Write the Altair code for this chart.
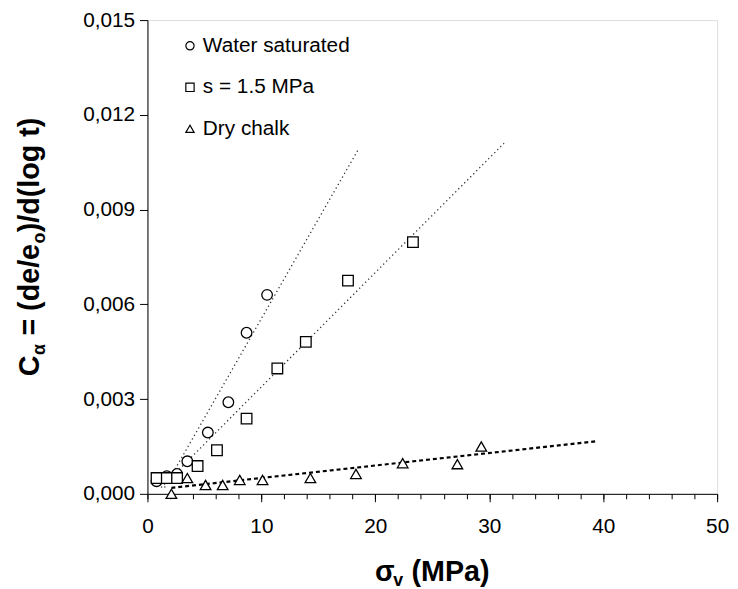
import altair as alt
import pandas as pd

# ---------------- data ----------------
ws_x = [0.8, 1.7, 2.6, 3.5, 5.3, 7.1, 8.7, 10.5]
ws_y = [0.00040, 0.00056, 0.00063, 0.00103, 0.00194, 0.00290, 0.00510, 0.00630]

s_x = [0.8, 1.7, 2.6, 4.4, 6.1, 8.7, 11.4, 13.9, 17.6, 23.3]
s_y = [0.00050, 0.00050, 0.00050, 0.00088, 0.00138, 0.00238, 0.00397, 0.00481, 0.00675, 0.00797]

dry_x = [2.1, 3.5, 5.1, 6.6, 8.1, 10.1, 14.3, 18.3, 22.4, 27.2, 29.3]
dry_y = [0.00000, 0.00050, 0.00028, 0.00028, 0.00044, 0.00044, 0.00050, 0.00063, 0.00097, 0.00094, 0.00150]

# trend lines (end points)
ws_line_x = [1.5, 18.5]
ws_line_y = [0.0002, 0.0109]
s_line_x = [1.2, 31.3]
s_line_y = [0.0002, 0.0111]
dry_line_x = [2.1, 39.3]
dry_line_y = [0.00019, 0.00166]

series_names = ["Water saturated", "s = 1.5 MPa", "Dry chalk"]
series_shapes = ["circle", "square", "triangle-up"]
x_major = list(range(0, 51, 10))
x_minor = list(range(0, 51, 2))
y_ticks = [0.0, 0.003, 0.006, 0.009, 0.012, 0.015]

# ---------------- tables ----------------
pts = pd.concat([
    pd.DataFrame({"x": ws_x, "y": ws_y, "series": series_names[0]}),
    pd.DataFrame({"x": s_x, "y": s_y, "series": series_names[1]}),
    pd.DataFrame({"x": dry_x, "y": dry_y, "series": series_names[2]}),
], ignore_index=True)
pts["order"] = range(len(pts))

thin_lines = pd.concat([
    pd.DataFrame({"x": ws_line_x, "y": ws_line_y, "series": series_names[0]}),
    pd.DataFrame({"x": s_line_x, "y": s_line_y, "series": series_names[1]}),
], ignore_index=True)
dry_line = pd.DataFrame({"x": dry_line_x, "y": dry_line_y, "series": series_names[2]})

FONT = "Liberation Sans"

xscale = alt.Scale(domain=[0, 50], nice=False)
yscale = alt.Scale(domain=[0, 0.015], nice=False)

x_axis_major = alt.Axis(values=x_major, title=None, grid=False, orient="bottom",
                        format="d", labelFont=FONT, labelFontSize=21, labelColor="black",
                        tickColor="black", tickSize=8, labelPadding=14,
                        domainColor="black", labelFlush=False)
x_axis_minor = alt.Axis(values=x_minor, title=None, grid=False, orient="bottom",
                        labels=False, domain=False,
                        tickColor="black", tickSize=5)
y_axis = alt.Axis(values=y_ticks, title=None, grid=False,
                  labelExpr="replace(format(datum.value, '.3f'), '.', ',')",
                  labelFont=FONT, labelFontSize=21, labelColor="black",
                  tickColor="black", tickSize=8, labelPadding=5,
                  domainColor="black")

Y = alt.Y("y:Q", scale=yscale, axis=y_axis)

thin = alt.Chart(thin_lines).mark_line(
    color="#333333", strokeWidth=1.3, strokeDash=[1.3, 3]
).encode(x=alt.X("x:Q", scale=xscale, axis=x_axis_major), y=Y, detail="series:N")

dry = alt.Chart(dry_line).mark_line(
    color="black", strokeWidth=2.2, strokeDash=[4, 3]
).encode(x=alt.X("x:Q", scale=xscale, axis=x_axis_minor), y=Y, detail="series:N")

points = alt.Chart(pts).mark_point(
    filled=True, fill="white", stroke="black", strokeWidth=1.3, opacity=1, size=115
).encode(
    x=alt.X("x:Q", scale=xscale, axis=None), y=Y,
    order="order:Q",
    shape=alt.Shape("series:N",
                    scale=alt.Scale(domain=series_names, range=series_shapes),
                    legend=None),
)

# ---------- hand-made legend (top-left of the plot) ----------
LEG_X, LEG_Y0, LEG_DY = 43, 26, 42
legend_layers = []
for i, (name, shp) in enumerate(zip(series_names, series_shapes)):
    yy = LEG_Y0 + i * LEG_DY
    legend_layers.append(
        alt.Chart(pd.DataFrame({"k": [0]})).mark_point(
            shape=shp, size=70, filled=True, fill="white", stroke="black",
            strokeWidth=1.2, opacity=1
        ).encode(x=alt.value(LEG_X), y=alt.value(yy))
    )
    legend_layers.append(
        alt.Chart(pd.DataFrame({"k": [0]})).mark_text(
            text=name, font=FONT, fontSize=21, color="black",
            align="left", baseline="middle"
        ).encode(x=alt.value(LEG_X + 13), y=alt.value(yy))
    )

def txt(s, x, y, size, angle=0, dx=0, dy=0):
    return alt.Chart(pd.DataFrame({"k": [0]})).mark_text(
        text=s, font=FONT, fontSize=size, fontWeight="bold", color="black",
        align="left", baseline="alphabetic", angle=angle, dx=dx, dy=dy
    ).encode(x=alt.value(x), y=alt.value(y))

# y title: C_alpha = (de/e_o)/d(log t), rotated
YX, YY = -110, 360
ytitle = [
    txt("C", YX, YY, 29, 270, dx=0),
    txt("\u03b1", YX, YY, 18, 270, dx=21.5, dy=6),
    txt("= (de/e", YX, YY, 29, 270, dx=41),
    txt("o", YX, YY, 18, 270, dx=134, dy=6),
    txt(")/d(log t)", YX, YY, 29, 270, dx=145.5),
]
# x title: sigma_v (MPa)
XX, XY = 230, 567
xtitle = [
    txt("\u03c3", XX, XY, 29),
    txt("v", XX, XY, 18, dx=18.5, dy=5),
    txt("(MPa)", XX, XY, 29, dx=37),
]

chart = alt.layer(thin, dry, points, *legend_layers, *ytitle, *xtitle).resolve_axis(
    x="independent"
).properties(
    width=576, height=479,
    autosize=alt.AutoSizeParams(type="none"),
    padding={"left": 141, "top": 9, "right": 13, "bottom": 93},
).configure_view(stroke=None).configure(background="white")

chart.save("out.html", embed_options={"renderer": "svg", "actions": False})
